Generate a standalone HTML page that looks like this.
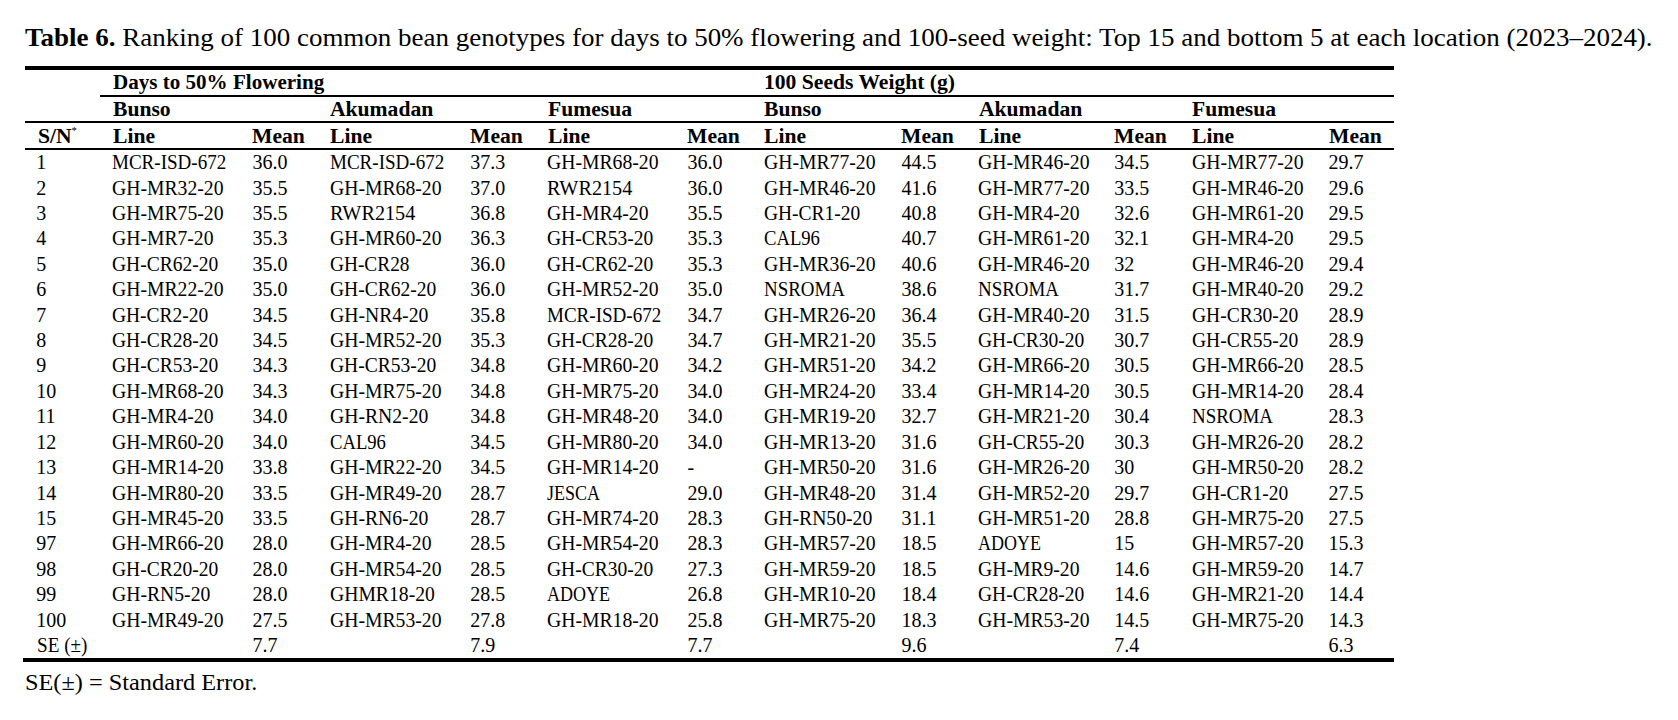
<!DOCTYPE html>
<html><head><meta charset="utf-8"><style>
html,body{margin:0;padding:0;background:#fff;}
body{width:1678px;height:720px;position:relative;overflow:hidden;font-family:"Liberation Serif",serif;color:#000;}
.t{position:absolute;white-space:nowrap;line-height:normal;transform-origin:0 0;}
.r{position:absolute;background:#000;}
.sup{font-size:0.5em;vertical-align:0.9em;font-weight:normal;}
</style></head><body>
<div class="t" style="left:25.00px;top:22.63px;font-size:26px;transform:scaleX(1.038);"><b>Table 6.</b> Ranking of 100 common bean genotypes for days to 50% flowering and 100-seed weight: Top 15 and bottom 5 at each location (2023–2024).</div>
<div class="r" style="left:25px;top:66px;width:1369px;height:4px"></div>
<div class="r" style="left:100px;top:95px;width:1294px;height:2px"></div>
<div class="r" style="left:25px;top:121px;width:1369px;height:2px"></div>
<div class="r" style="left:25px;top:148px;width:1369px;height:2px"></div>
<div class="r" style="left:23px;top:658px;width:1371px;height:4px"></div>
<div class="t" style="left:112.60px;top:71.08px;font-size:20px;font-weight:bold;transform:scaleX(1.053);">Days to 50% Flowering</div>
<div class="t" style="left:764.40px;top:71.08px;font-size:20px;font-weight:bold;transform:scaleX(1.08);">100 Seeds Weight (g)</div>
<div class="t" style="left:112.60px;top:97.98px;font-size:20px;font-weight:bold;transform:scaleX(1.08);">Bunso</div>
<div class="t" style="left:330.30px;top:97.98px;font-size:20px;font-weight:bold;transform:scaleX(1.08);">Akumadan</div>
<div class="t" style="left:547.50px;top:97.98px;font-size:20px;font-weight:bold;transform:scaleX(1.08);">Fumesua</div>
<div class="t" style="left:764.40px;top:97.98px;font-size:20px;font-weight:bold;transform:scaleX(1.08);">Bunso</div>
<div class="t" style="left:978.70px;top:97.98px;font-size:20px;font-weight:bold;transform:scaleX(1.08);">Akumadan</div>
<div class="t" style="left:1192.10px;top:97.98px;font-size:20px;font-weight:bold;transform:scaleX(1.08);">Fumesua</div>
<div class="t" style="left:37.50px;top:125.28px;font-size:20px;font-weight:bold;transform:scaleX(1.08);">S/N<span class="sup">*</span></div>
<div class="t" style="left:112.60px;top:125.28px;font-size:20px;font-weight:bold;transform:scaleX(1.08);">Line</div>
<div class="t" style="left:252.40px;top:125.28px;font-size:20px;font-weight:bold;transform:scaleX(1.08);">Mean</div>
<div class="t" style="left:330.30px;top:125.28px;font-size:20px;font-weight:bold;transform:scaleX(1.08);">Line</div>
<div class="t" style="left:470.20px;top:125.28px;font-size:20px;font-weight:bold;transform:scaleX(1.08);">Mean</div>
<div class="t" style="left:547.50px;top:125.28px;font-size:20px;font-weight:bold;transform:scaleX(1.08);">Line</div>
<div class="t" style="left:687.40px;top:125.28px;font-size:20px;font-weight:bold;transform:scaleX(1.08);">Mean</div>
<div class="t" style="left:764.40px;top:125.28px;font-size:20px;font-weight:bold;transform:scaleX(1.08);">Line</div>
<div class="t" style="left:901.40px;top:125.28px;font-size:20px;font-weight:bold;transform:scaleX(1.08);">Mean</div>
<div class="t" style="left:978.70px;top:125.28px;font-size:20px;font-weight:bold;transform:scaleX(1.08);">Line</div>
<div class="t" style="left:1114.30px;top:125.28px;font-size:20px;font-weight:bold;transform:scaleX(1.08);">Mean</div>
<div class="t" style="left:1192.10px;top:125.28px;font-size:20px;font-weight:bold;transform:scaleX(1.08);">Line</div>
<div class="t" style="left:1328.50px;top:125.28px;font-size:20px;font-weight:bold;transform:scaleX(1.08);">Mean</div>
<div class="t" style="left:36.30px;top:151.08px;font-size:20px;">1</div>
<div class="t" style="left:112.10px;top:151.08px;font-size:20px;transform:scaleX(0.9518);">MCR-ISD-672</div>
<div class="t" style="left:252.40px;top:151.08px;font-size:20px;">36.0</div>
<div class="t" style="left:329.80px;top:151.08px;font-size:20px;transform:scaleX(0.9518);">MCR-ISD-672</div>
<div class="t" style="left:470.20px;top:151.08px;font-size:20px;">37.3</div>
<div class="t" style="left:547.00px;top:151.08px;font-size:20px;transform:scaleX(0.9839);">GH-MR68-20</div>
<div class="t" style="left:687.40px;top:151.08px;font-size:20px;">36.0</div>
<div class="t" style="left:763.90px;top:151.08px;font-size:20px;transform:scaleX(0.9839);">GH-MR77-20</div>
<div class="t" style="left:901.40px;top:151.08px;font-size:20px;">44.5</div>
<div class="t" style="left:978.20px;top:151.08px;font-size:20px;transform:scaleX(0.9839);">GH-MR46-20</div>
<div class="t" style="left:1114.30px;top:151.08px;font-size:20px;">34.5</div>
<div class="t" style="left:1191.60px;top:151.08px;font-size:20px;transform:scaleX(0.9839);">GH-MR77-20</div>
<div class="t" style="left:1328.50px;top:151.08px;font-size:20px;">29.7</div>
<div class="t" style="left:36.30px;top:176.50px;font-size:20px;">2</div>
<div class="t" style="left:112.10px;top:176.50px;font-size:20px;transform:scaleX(0.9839);">GH-MR32-20</div>
<div class="t" style="left:252.40px;top:176.50px;font-size:20px;">35.5</div>
<div class="t" style="left:329.80px;top:176.50px;font-size:20px;transform:scaleX(0.9839);">GH-MR68-20</div>
<div class="t" style="left:470.20px;top:176.50px;font-size:20px;">37.0</div>
<div class="t" style="left:547.00px;top:176.50px;font-size:20px;transform:scaleX(1.0096);">RWR2154</div>
<div class="t" style="left:687.40px;top:176.50px;font-size:20px;">36.0</div>
<div class="t" style="left:763.90px;top:176.50px;font-size:20px;transform:scaleX(0.9839);">GH-MR46-20</div>
<div class="t" style="left:901.40px;top:176.50px;font-size:20px;">41.6</div>
<div class="t" style="left:978.20px;top:176.50px;font-size:20px;transform:scaleX(0.9839);">GH-MR77-20</div>
<div class="t" style="left:1114.30px;top:176.50px;font-size:20px;">33.5</div>
<div class="t" style="left:1191.60px;top:176.50px;font-size:20px;transform:scaleX(0.9839);">GH-MR46-20</div>
<div class="t" style="left:1328.50px;top:176.50px;font-size:20px;">29.6</div>
<div class="t" style="left:36.30px;top:201.92px;font-size:20px;">3</div>
<div class="t" style="left:112.10px;top:201.92px;font-size:20px;transform:scaleX(0.9839);">GH-MR75-20</div>
<div class="t" style="left:252.40px;top:201.92px;font-size:20px;">35.5</div>
<div class="t" style="left:329.80px;top:201.92px;font-size:20px;transform:scaleX(1.0096);">RWR2154</div>
<div class="t" style="left:470.20px;top:201.92px;font-size:20px;">36.8</div>
<div class="t" style="left:547.00px;top:201.92px;font-size:20px;transform:scaleX(0.9824);">GH-MR4-20</div>
<div class="t" style="left:687.40px;top:201.92px;font-size:20px;">35.5</div>
<div class="t" style="left:763.90px;top:201.92px;font-size:20px;transform:scaleX(0.9726);">GH-CR1-20</div>
<div class="t" style="left:901.40px;top:201.92px;font-size:20px;">40.8</div>
<div class="t" style="left:978.20px;top:201.92px;font-size:20px;transform:scaleX(0.9824);">GH-MR4-20</div>
<div class="t" style="left:1114.30px;top:201.92px;font-size:20px;">32.6</div>
<div class="t" style="left:1191.60px;top:201.92px;font-size:20px;transform:scaleX(0.9839);">GH-MR61-20</div>
<div class="t" style="left:1328.50px;top:201.92px;font-size:20px;">29.5</div>
<div class="t" style="left:36.30px;top:227.34px;font-size:20px;">4</div>
<div class="t" style="left:112.10px;top:227.34px;font-size:20px;transform:scaleX(0.9824);">GH-MR7-20</div>
<div class="t" style="left:252.40px;top:227.34px;font-size:20px;">35.3</div>
<div class="t" style="left:329.80px;top:227.34px;font-size:20px;transform:scaleX(0.9839);">GH-MR60-20</div>
<div class="t" style="left:470.20px;top:227.34px;font-size:20px;">36.3</div>
<div class="t" style="left:547.00px;top:227.34px;font-size:20px;transform:scaleX(0.9751);">GH-CR53-20</div>
<div class="t" style="left:687.40px;top:227.34px;font-size:20px;">35.3</div>
<div class="t" style="left:763.90px;top:227.34px;font-size:20px;transform:scaleX(0.932);">CAL96</div>
<div class="t" style="left:901.40px;top:227.34px;font-size:20px;">40.7</div>
<div class="t" style="left:978.20px;top:227.34px;font-size:20px;transform:scaleX(0.9839);">GH-MR61-20</div>
<div class="t" style="left:1114.30px;top:227.34px;font-size:20px;">32.1</div>
<div class="t" style="left:1191.60px;top:227.34px;font-size:20px;transform:scaleX(0.9824);">GH-MR4-20</div>
<div class="t" style="left:1328.50px;top:227.34px;font-size:20px;">29.5</div>
<div class="t" style="left:36.30px;top:252.76px;font-size:20px;">5</div>
<div class="t" style="left:112.10px;top:252.76px;font-size:20px;transform:scaleX(0.9751);">GH-CR62-20</div>
<div class="t" style="left:252.40px;top:252.76px;font-size:20px;">35.0</div>
<div class="t" style="left:329.80px;top:252.76px;font-size:20px;transform:scaleX(0.967);">GH-CR28</div>
<div class="t" style="left:470.20px;top:252.76px;font-size:20px;">36.0</div>
<div class="t" style="left:547.00px;top:252.76px;font-size:20px;transform:scaleX(0.9751);">GH-CR62-20</div>
<div class="t" style="left:687.40px;top:252.76px;font-size:20px;">35.3</div>
<div class="t" style="left:763.90px;top:252.76px;font-size:20px;transform:scaleX(0.9839);">GH-MR36-20</div>
<div class="t" style="left:901.40px;top:252.76px;font-size:20px;">40.6</div>
<div class="t" style="left:978.20px;top:252.76px;font-size:20px;transform:scaleX(0.9839);">GH-MR46-20</div>
<div class="t" style="left:1114.30px;top:252.76px;font-size:20px;">32</div>
<div class="t" style="left:1191.60px;top:252.76px;font-size:20px;transform:scaleX(0.9839);">GH-MR46-20</div>
<div class="t" style="left:1328.50px;top:252.76px;font-size:20px;">29.4</div>
<div class="t" style="left:36.30px;top:278.18px;font-size:20px;">6</div>
<div class="t" style="left:112.10px;top:278.18px;font-size:20px;transform:scaleX(0.9839);">GH-MR22-20</div>
<div class="t" style="left:252.40px;top:278.18px;font-size:20px;">35.0</div>
<div class="t" style="left:329.80px;top:278.18px;font-size:20px;transform:scaleX(0.9751);">GH-CR62-20</div>
<div class="t" style="left:470.20px;top:278.18px;font-size:20px;">36.0</div>
<div class="t" style="left:547.00px;top:278.18px;font-size:20px;transform:scaleX(0.9839);">GH-MR52-20</div>
<div class="t" style="left:687.40px;top:278.18px;font-size:20px;">35.0</div>
<div class="t" style="left:763.90px;top:278.18px;font-size:20px;transform:scaleX(0.946);">NSROMA</div>
<div class="t" style="left:901.40px;top:278.18px;font-size:20px;">38.6</div>
<div class="t" style="left:978.20px;top:278.18px;font-size:20px;transform:scaleX(0.946);">NSROMA</div>
<div class="t" style="left:1114.30px;top:278.18px;font-size:20px;">31.7</div>
<div class="t" style="left:1191.60px;top:278.18px;font-size:20px;transform:scaleX(0.9839);">GH-MR40-20</div>
<div class="t" style="left:1328.50px;top:278.18px;font-size:20px;">29.2</div>
<div class="t" style="left:36.30px;top:303.60px;font-size:20px;">7</div>
<div class="t" style="left:112.10px;top:303.60px;font-size:20px;transform:scaleX(0.9726);">GH-CR2-20</div>
<div class="t" style="left:252.40px;top:303.60px;font-size:20px;">34.5</div>
<div class="t" style="left:329.80px;top:303.60px;font-size:20px;transform:scaleX(0.9831);">GH-NR4-20</div>
<div class="t" style="left:470.20px;top:303.60px;font-size:20px;">35.8</div>
<div class="t" style="left:547.00px;top:303.60px;font-size:20px;transform:scaleX(0.9518);">MCR-ISD-672</div>
<div class="t" style="left:687.40px;top:303.60px;font-size:20px;">34.7</div>
<div class="t" style="left:763.90px;top:303.60px;font-size:20px;transform:scaleX(0.9839);">GH-MR26-20</div>
<div class="t" style="left:901.40px;top:303.60px;font-size:20px;">36.4</div>
<div class="t" style="left:978.20px;top:303.60px;font-size:20px;transform:scaleX(0.9839);">GH-MR40-20</div>
<div class="t" style="left:1114.30px;top:303.60px;font-size:20px;">31.5</div>
<div class="t" style="left:1191.60px;top:303.60px;font-size:20px;transform:scaleX(0.9751);">GH-CR30-20</div>
<div class="t" style="left:1328.50px;top:303.60px;font-size:20px;">28.9</div>
<div class="t" style="left:36.30px;top:329.02px;font-size:20px;">8</div>
<div class="t" style="left:112.10px;top:329.02px;font-size:20px;transform:scaleX(0.9751);">GH-CR28-20</div>
<div class="t" style="left:252.40px;top:329.02px;font-size:20px;">34.5</div>
<div class="t" style="left:329.80px;top:329.02px;font-size:20px;transform:scaleX(0.9839);">GH-MR52-20</div>
<div class="t" style="left:470.20px;top:329.02px;font-size:20px;">35.3</div>
<div class="t" style="left:547.00px;top:329.02px;font-size:20px;transform:scaleX(0.9751);">GH-CR28-20</div>
<div class="t" style="left:687.40px;top:329.02px;font-size:20px;">34.7</div>
<div class="t" style="left:763.90px;top:329.02px;font-size:20px;transform:scaleX(0.9839);">GH-MR21-20</div>
<div class="t" style="left:901.40px;top:329.02px;font-size:20px;">35.5</div>
<div class="t" style="left:978.20px;top:329.02px;font-size:20px;transform:scaleX(0.9751);">GH-CR30-20</div>
<div class="t" style="left:1114.30px;top:329.02px;font-size:20px;">30.7</div>
<div class="t" style="left:1191.60px;top:329.02px;font-size:20px;transform:scaleX(0.9751);">GH-CR55-20</div>
<div class="t" style="left:1328.50px;top:329.02px;font-size:20px;">28.9</div>
<div class="t" style="left:36.30px;top:354.44px;font-size:20px;">9</div>
<div class="t" style="left:112.10px;top:354.44px;font-size:20px;transform:scaleX(0.9751);">GH-CR53-20</div>
<div class="t" style="left:252.40px;top:354.44px;font-size:20px;">34.3</div>
<div class="t" style="left:329.80px;top:354.44px;font-size:20px;transform:scaleX(0.9751);">GH-CR53-20</div>
<div class="t" style="left:470.20px;top:354.44px;font-size:20px;">34.8</div>
<div class="t" style="left:547.00px;top:354.44px;font-size:20px;transform:scaleX(0.9839);">GH-MR60-20</div>
<div class="t" style="left:687.40px;top:354.44px;font-size:20px;">34.2</div>
<div class="t" style="left:763.90px;top:354.44px;font-size:20px;transform:scaleX(0.9839);">GH-MR51-20</div>
<div class="t" style="left:901.40px;top:354.44px;font-size:20px;">34.2</div>
<div class="t" style="left:978.20px;top:354.44px;font-size:20px;transform:scaleX(0.9839);">GH-MR66-20</div>
<div class="t" style="left:1114.30px;top:354.44px;font-size:20px;">30.5</div>
<div class="t" style="left:1191.60px;top:354.44px;font-size:20px;transform:scaleX(0.9839);">GH-MR66-20</div>
<div class="t" style="left:1328.50px;top:354.44px;font-size:20px;">28.5</div>
<div class="t" style="left:36.30px;top:379.86px;font-size:20px;">10</div>
<div class="t" style="left:112.10px;top:379.86px;font-size:20px;transform:scaleX(0.9839);">GH-MR68-20</div>
<div class="t" style="left:252.40px;top:379.86px;font-size:20px;">34.3</div>
<div class="t" style="left:329.80px;top:379.86px;font-size:20px;transform:scaleX(0.9839);">GH-MR75-20</div>
<div class="t" style="left:470.20px;top:379.86px;font-size:20px;">34.8</div>
<div class="t" style="left:547.00px;top:379.86px;font-size:20px;transform:scaleX(0.9839);">GH-MR75-20</div>
<div class="t" style="left:687.40px;top:379.86px;font-size:20px;">34.0</div>
<div class="t" style="left:763.90px;top:379.86px;font-size:20px;transform:scaleX(0.9839);">GH-MR24-20</div>
<div class="t" style="left:901.40px;top:379.86px;font-size:20px;">33.4</div>
<div class="t" style="left:978.20px;top:379.86px;font-size:20px;transform:scaleX(0.9839);">GH-MR14-20</div>
<div class="t" style="left:1114.30px;top:379.86px;font-size:20px;">30.5</div>
<div class="t" style="left:1191.60px;top:379.86px;font-size:20px;transform:scaleX(0.9839);">GH-MR14-20</div>
<div class="t" style="left:1328.50px;top:379.86px;font-size:20px;">28.4</div>
<div class="t" style="left:36.30px;top:405.28px;font-size:20px;">11</div>
<div class="t" style="left:112.10px;top:405.28px;font-size:20px;transform:scaleX(0.9824);">GH-MR4-20</div>
<div class="t" style="left:252.40px;top:405.28px;font-size:20px;">34.0</div>
<div class="t" style="left:329.80px;top:405.28px;font-size:20px;transform:scaleX(0.9831);">GH-RN2-20</div>
<div class="t" style="left:470.20px;top:405.28px;font-size:20px;">34.8</div>
<div class="t" style="left:547.00px;top:405.28px;font-size:20px;transform:scaleX(0.9839);">GH-MR48-20</div>
<div class="t" style="left:687.40px;top:405.28px;font-size:20px;">34.0</div>
<div class="t" style="left:763.90px;top:405.28px;font-size:20px;transform:scaleX(0.9839);">GH-MR19-20</div>
<div class="t" style="left:901.40px;top:405.28px;font-size:20px;">32.7</div>
<div class="t" style="left:978.20px;top:405.28px;font-size:20px;transform:scaleX(0.9839);">GH-MR21-20</div>
<div class="t" style="left:1114.30px;top:405.28px;font-size:20px;">30.4</div>
<div class="t" style="left:1191.60px;top:405.28px;font-size:20px;transform:scaleX(0.946);">NSROMA</div>
<div class="t" style="left:1328.50px;top:405.28px;font-size:20px;">28.3</div>
<div class="t" style="left:36.30px;top:430.70px;font-size:20px;">12</div>
<div class="t" style="left:112.10px;top:430.70px;font-size:20px;transform:scaleX(0.9839);">GH-MR60-20</div>
<div class="t" style="left:252.40px;top:430.70px;font-size:20px;">34.0</div>
<div class="t" style="left:329.80px;top:430.70px;font-size:20px;transform:scaleX(0.932);">CAL96</div>
<div class="t" style="left:470.20px;top:430.70px;font-size:20px;">34.5</div>
<div class="t" style="left:547.00px;top:430.70px;font-size:20px;transform:scaleX(0.9839);">GH-MR80-20</div>
<div class="t" style="left:687.40px;top:430.70px;font-size:20px;">34.0</div>
<div class="t" style="left:763.90px;top:430.70px;font-size:20px;transform:scaleX(0.9839);">GH-MR13-20</div>
<div class="t" style="left:901.40px;top:430.70px;font-size:20px;">31.6</div>
<div class="t" style="left:978.20px;top:430.70px;font-size:20px;transform:scaleX(0.9751);">GH-CR55-20</div>
<div class="t" style="left:1114.30px;top:430.70px;font-size:20px;">30.3</div>
<div class="t" style="left:1191.60px;top:430.70px;font-size:20px;transform:scaleX(0.9839);">GH-MR26-20</div>
<div class="t" style="left:1328.50px;top:430.70px;font-size:20px;">28.2</div>
<div class="t" style="left:36.30px;top:456.12px;font-size:20px;">13</div>
<div class="t" style="left:112.10px;top:456.12px;font-size:20px;transform:scaleX(0.9839);">GH-MR14-20</div>
<div class="t" style="left:252.40px;top:456.12px;font-size:20px;">33.8</div>
<div class="t" style="left:329.80px;top:456.12px;font-size:20px;transform:scaleX(0.9839);">GH-MR22-20</div>
<div class="t" style="left:470.20px;top:456.12px;font-size:20px;">34.5</div>
<div class="t" style="left:547.00px;top:456.12px;font-size:20px;transform:scaleX(0.9839);">GH-MR14-20</div>
<div class="t" style="left:687.40px;top:456.12px;font-size:20px;">-</div>
<div class="t" style="left:763.90px;top:456.12px;font-size:20px;transform:scaleX(0.9839);">GH-MR50-20</div>
<div class="t" style="left:901.40px;top:456.12px;font-size:20px;">31.6</div>
<div class="t" style="left:978.20px;top:456.12px;font-size:20px;transform:scaleX(0.9839);">GH-MR26-20</div>
<div class="t" style="left:1114.30px;top:456.12px;font-size:20px;">30</div>
<div class="t" style="left:1191.60px;top:456.12px;font-size:20px;transform:scaleX(0.9839);">GH-MR50-20</div>
<div class="t" style="left:1328.50px;top:456.12px;font-size:20px;">28.2</div>
<div class="t" style="left:36.30px;top:481.54px;font-size:20px;">14</div>
<div class="t" style="left:112.10px;top:481.54px;font-size:20px;transform:scaleX(0.9839);">GH-MR80-20</div>
<div class="t" style="left:252.40px;top:481.54px;font-size:20px;">33.5</div>
<div class="t" style="left:329.80px;top:481.54px;font-size:20px;transform:scaleX(0.9839);">GH-MR49-20</div>
<div class="t" style="left:470.20px;top:481.54px;font-size:20px;">28.7</div>
<div class="t" style="left:547.00px;top:481.54px;font-size:20px;transform:scaleX(0.9017);">JESCA</div>
<div class="t" style="left:687.40px;top:481.54px;font-size:20px;">29.0</div>
<div class="t" style="left:763.90px;top:481.54px;font-size:20px;transform:scaleX(0.9839);">GH-MR48-20</div>
<div class="t" style="left:901.40px;top:481.54px;font-size:20px;">31.4</div>
<div class="t" style="left:978.20px;top:481.54px;font-size:20px;transform:scaleX(0.9839);">GH-MR52-20</div>
<div class="t" style="left:1114.30px;top:481.54px;font-size:20px;">29.7</div>
<div class="t" style="left:1191.60px;top:481.54px;font-size:20px;transform:scaleX(0.9726);">GH-CR1-20</div>
<div class="t" style="left:1328.50px;top:481.54px;font-size:20px;">27.5</div>
<div class="t" style="left:36.30px;top:506.96px;font-size:20px;">15</div>
<div class="t" style="left:112.10px;top:506.96px;font-size:20px;transform:scaleX(0.9839);">GH-MR45-20</div>
<div class="t" style="left:252.40px;top:506.96px;font-size:20px;">33.5</div>
<div class="t" style="left:329.80px;top:506.96px;font-size:20px;transform:scaleX(0.9831);">GH-RN6-20</div>
<div class="t" style="left:470.20px;top:506.96px;font-size:20px;">28.7</div>
<div class="t" style="left:547.00px;top:506.96px;font-size:20px;transform:scaleX(0.9839);">GH-MR74-20</div>
<div class="t" style="left:687.40px;top:506.96px;font-size:20px;">28.3</div>
<div class="t" style="left:763.90px;top:506.96px;font-size:20px;transform:scaleX(0.9846);">GH-RN50-20</div>
<div class="t" style="left:901.40px;top:506.96px;font-size:20px;">31.1</div>
<div class="t" style="left:978.20px;top:506.96px;font-size:20px;transform:scaleX(0.9839);">GH-MR51-20</div>
<div class="t" style="left:1114.30px;top:506.96px;font-size:20px;">28.8</div>
<div class="t" style="left:1191.60px;top:506.96px;font-size:20px;transform:scaleX(0.9839);">GH-MR75-20</div>
<div class="t" style="left:1328.50px;top:506.96px;font-size:20px;">27.5</div>
<div class="t" style="left:36.30px;top:532.38px;font-size:20px;">97</div>
<div class="t" style="left:112.10px;top:532.38px;font-size:20px;transform:scaleX(0.9839);">GH-MR66-20</div>
<div class="t" style="left:252.40px;top:532.38px;font-size:20px;">28.0</div>
<div class="t" style="left:329.80px;top:532.38px;font-size:20px;transform:scaleX(0.9824);">GH-MR4-20</div>
<div class="t" style="left:470.20px;top:532.38px;font-size:20px;">28.5</div>
<div class="t" style="left:547.00px;top:532.38px;font-size:20px;transform:scaleX(0.9839);">GH-MR54-20</div>
<div class="t" style="left:687.40px;top:532.38px;font-size:20px;">28.3</div>
<div class="t" style="left:763.90px;top:532.38px;font-size:20px;transform:scaleX(0.9839);">GH-MR57-20</div>
<div class="t" style="left:901.40px;top:532.38px;font-size:20px;">18.5</div>
<div class="t" style="left:978.20px;top:532.38px;font-size:20px;transform:scaleX(0.9006);">ADOYE</div>
<div class="t" style="left:1114.30px;top:532.38px;font-size:20px;">15</div>
<div class="t" style="left:1191.60px;top:532.38px;font-size:20px;transform:scaleX(0.9839);">GH-MR57-20</div>
<div class="t" style="left:1328.50px;top:532.38px;font-size:20px;">15.3</div>
<div class="t" style="left:36.30px;top:557.80px;font-size:20px;">98</div>
<div class="t" style="left:112.10px;top:557.80px;font-size:20px;transform:scaleX(0.9751);">GH-CR20-20</div>
<div class="t" style="left:252.40px;top:557.80px;font-size:20px;">28.0</div>
<div class="t" style="left:329.80px;top:557.80px;font-size:20px;transform:scaleX(0.9839);">GH-MR54-20</div>
<div class="t" style="left:470.20px;top:557.80px;font-size:20px;">28.5</div>
<div class="t" style="left:547.00px;top:557.80px;font-size:20px;transform:scaleX(0.9751);">GH-CR30-20</div>
<div class="t" style="left:687.40px;top:557.80px;font-size:20px;">27.3</div>
<div class="t" style="left:763.90px;top:557.80px;font-size:20px;transform:scaleX(0.9839);">GH-MR59-20</div>
<div class="t" style="left:901.40px;top:557.80px;font-size:20px;">18.5</div>
<div class="t" style="left:978.20px;top:557.80px;font-size:20px;transform:scaleX(0.9824);">GH-MR9-20</div>
<div class="t" style="left:1114.30px;top:557.80px;font-size:20px;">14.6</div>
<div class="t" style="left:1191.60px;top:557.80px;font-size:20px;transform:scaleX(0.9839);">GH-MR59-20</div>
<div class="t" style="left:1328.50px;top:557.80px;font-size:20px;">14.7</div>
<div class="t" style="left:36.30px;top:583.22px;font-size:20px;">99</div>
<div class="t" style="left:112.10px;top:583.22px;font-size:20px;transform:scaleX(0.9831);">GH-RN5-20</div>
<div class="t" style="left:252.40px;top:583.22px;font-size:20px;">28.0</div>
<div class="t" style="left:329.80px;top:583.22px;font-size:20px;transform:scaleX(0.9829);">GHMR18-20</div>
<div class="t" style="left:470.20px;top:583.22px;font-size:20px;">28.5</div>
<div class="t" style="left:547.00px;top:583.22px;font-size:20px;transform:scaleX(0.9006);">ADOYE</div>
<div class="t" style="left:687.40px;top:583.22px;font-size:20px;">26.8</div>
<div class="t" style="left:763.90px;top:583.22px;font-size:20px;transform:scaleX(0.9839);">GH-MR10-20</div>
<div class="t" style="left:901.40px;top:583.22px;font-size:20px;">18.4</div>
<div class="t" style="left:978.20px;top:583.22px;font-size:20px;transform:scaleX(0.9751);">GH-CR28-20</div>
<div class="t" style="left:1114.30px;top:583.22px;font-size:20px;">14.6</div>
<div class="t" style="left:1191.60px;top:583.22px;font-size:20px;transform:scaleX(0.9839);">GH-MR21-20</div>
<div class="t" style="left:1328.50px;top:583.22px;font-size:20px;">14.4</div>
<div class="t" style="left:36.30px;top:608.64px;font-size:20px;">100</div>
<div class="t" style="left:112.10px;top:608.64px;font-size:20px;transform:scaleX(0.9839);">GH-MR49-20</div>
<div class="t" style="left:252.40px;top:608.64px;font-size:20px;">27.5</div>
<div class="t" style="left:329.80px;top:608.64px;font-size:20px;transform:scaleX(0.9839);">GH-MR53-20</div>
<div class="t" style="left:470.20px;top:608.64px;font-size:20px;">27.8</div>
<div class="t" style="left:547.00px;top:608.64px;font-size:20px;transform:scaleX(0.9839);">GH-MR18-20</div>
<div class="t" style="left:687.40px;top:608.64px;font-size:20px;">25.8</div>
<div class="t" style="left:763.90px;top:608.64px;font-size:20px;transform:scaleX(0.9839);">GH-MR75-20</div>
<div class="t" style="left:901.40px;top:608.64px;font-size:20px;">18.3</div>
<div class="t" style="left:978.20px;top:608.64px;font-size:20px;transform:scaleX(0.9839);">GH-MR53-20</div>
<div class="t" style="left:1114.30px;top:608.64px;font-size:20px;">14.5</div>
<div class="t" style="left:1191.60px;top:608.64px;font-size:20px;transform:scaleX(0.9839);">GH-MR75-20</div>
<div class="t" style="left:1328.50px;top:608.64px;font-size:20px;">14.3</div>
<div class="t" style="left:37.20px;top:634.06px;font-size:20px;transform:scaleX(0.9574);">SE (±)</div>
<div class="t" style="left:252.40px;top:634.06px;font-size:20px;">7.7</div>
<div class="t" style="left:470.20px;top:634.06px;font-size:20px;">7.9</div>
<div class="t" style="left:687.40px;top:634.06px;font-size:20px;">7.7</div>
<div class="t" style="left:901.40px;top:634.06px;font-size:20px;">9.6</div>
<div class="t" style="left:1114.30px;top:634.06px;font-size:20px;">7.4</div>
<div class="t" style="left:1328.50px;top:634.06px;font-size:20px;">6.3</div>
<div class="t" style="left:24.60px;top:669.71px;font-size:23px;transform:scaleX(1.057);">SE(±) = Standard Error.</div>
</body></html>
